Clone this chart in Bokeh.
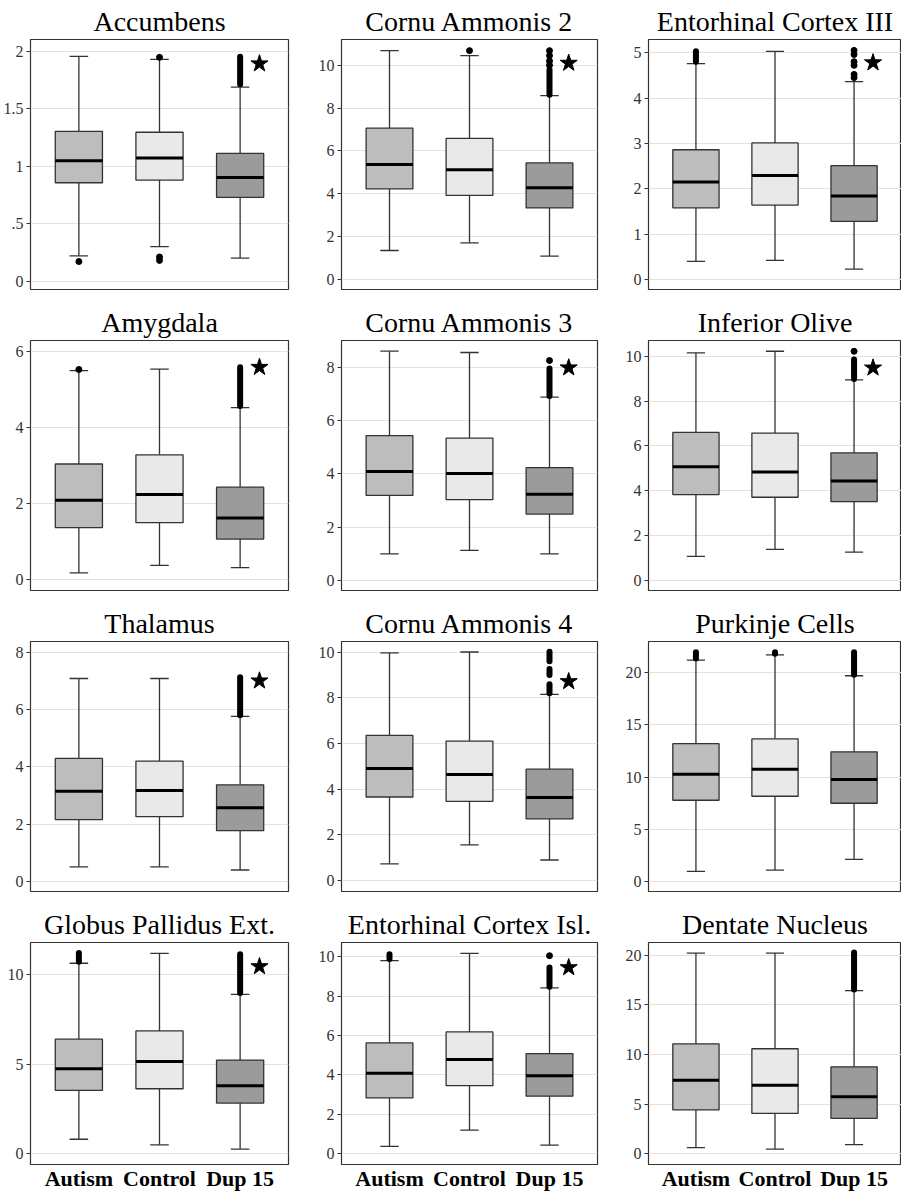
from bokeh.plotting import figure
from bokeh.layouts import gridplot
from bokeh.models import ColumnDataSource, FactorRange, Range1d, FixedTicker
from bokeh.transform import dodge
from bokeh.embed import file_html
from bokeh.resources import INLINE

groups = ["Autism", "Control", "Dup 15"]
regions = ["Accumbens", "Cornu Ammonis 2", "Entorhinal Cortex III",
           "Amygdala", "Cornu Ammonis 3", "Inferior Olive",
           "Thalamus", "Cornu Ammonis 4", "Purkinje Cells",
           "Globus Pallidus Ext.", "Entorhinal Cortex Isl.", "Dentate Nucleus"]

whisker_low = [[0.22, 0.30, 0.20], [1.35, 1.71, 1.09], [0.40, 0.42, 0.23],
               [0.18, 0.38, 0.32], [1.00, 1.13, 1.00], [1.07, 1.38, 1.26],
               [0.51, 0.51, 0.40], [0.73, 1.56, 0.90], [0.96, 1.09, 2.11],
               [0.81, 0.50, 0.26], [0.37, 1.20, 0.43], [0.60, 0.46, 0.90]]
q1 = [[0.855, 0.878, 0.727], [4.23, 3.92, 3.34], [1.58, 1.64, 1.28],
      [1.37, 1.50, 1.07], [3.19, 3.03, 2.49], [3.83, 3.71, 3.51],
      [2.16, 2.26, 1.77], [3.66, 3.47, 2.70], [7.78, 8.16, 7.49],
      [3.54, 3.63, 2.83], [2.83, 3.45, 2.92], [4.41, 4.05, 3.55]]
median = [[1.047, 1.070, 0.901], [5.37, 5.12, 4.28], [2.15, 2.29, 1.84],
          [2.09, 2.24, 1.62], [4.09, 4.01, 3.23], [5.07, 4.84, 4.43],
          [3.15, 3.17, 2.57], [4.91, 4.65, 3.64], [10.27, 10.75, 9.76],
          [4.75, 5.16, 3.80], [4.08, 4.78, 3.95], [7.40, 6.90, 5.74]]
q3 = [[1.302, 1.294, 1.110], [7.06, 6.58, 5.44], [2.86, 3.01, 2.51],
      [3.04, 3.28, 2.43], [5.43, 5.34, 4.23], [6.60, 6.57, 5.69],
      [4.29, 4.20, 3.37], [6.36, 6.11, 4.88], [13.20, 13.66, 12.42],
      [6.40, 6.86, 5.23], [5.62, 6.18, 5.08], [11.08, 10.58, 8.76]]
whisker_high = [[1.953, 1.927, 1.686], [10.68, 10.45, 8.58], [4.76, 5.03, 4.36],
                [5.49, 5.53, 4.52], [8.60, 8.55, 6.88], [10.15, 10.22, 8.94],
                [7.08, 7.08, 5.76], [9.97, 10.01, 8.15], [21.2, 21.7, 19.7],
                [10.64, 11.19, 8.90], [9.80, 10.17, 8.42], [20.23, 20.23, 16.45]]

# single outliers: (group, value)
outlier_points = [
    [("Autism", 0.17), ("Control", 1.945), ("Control", 0.21), ("Control", 0.18)],
    [("Control", 10.68), ("Dup 15", 10.0), ("Dup 15", 10.2), ("Dup 15", 10.45), ("Dup 15", 10.68)],
    [("Dup 15", 4.45), ("Dup 15", 4.52), ("Dup 15", 4.72), ("Dup 15", 4.80), ("Dup 15", 4.96), ("Dup 15", 5.05)],
    [("Autism", 5.52)],
    [("Dup 15", 8.25)],
    [("Dup 15", 10.22)],
    [],
    [],
    [],
    [],
    [("Dup 15", 10.05)],
    [],
]
# runs of overlapping outliers: (group, lowest, highest)
outlier_runs = [
    [("Dup 15", 1.71, 1.95)],
    [("Dup 15", 8.62, 9.80)],
    [("Autism", 4.80, 5.03)],
    [("Dup 15", 4.56, 5.58)],
    [("Dup 15", 6.92, 7.95)],
    [("Dup 15", 8.98, 9.85)],
    [("Dup 15", 5.80, 7.12)],
    [("Dup 15", 8.20, 8.60), ("Dup 15", 9.00, 9.27), ("Dup 15", 9.60, 10.02)],
    [("Autism", 21.35, 21.95), ("Control", 21.80, 21.95), ("Dup 15", 19.80, 21.95)],
    [("Autism", 10.72, 11.22), ("Dup 15", 8.98, 11.15)],
    [("Autism", 9.88, 10.12), ("Dup 15", 8.47, 9.45)],
    [("Dup 15", 16.55, 20.30)],
]
# significance star beside Dup 15 (None = no star)
star_y = [1.89, 10.1, 4.78, 5.58, 7.98, 9.48, 7.0, 8.72, None, 10.46, 9.45, None]

y_start = [-0.073, -0.47, -0.22, -0.28, -0.375, -0.45, -0.35, -0.48, -0.96, -0.6, -0.55, -1.1]
y_end = [2.10, 11.2, 5.29, 6.28, 9.0, 10.7, 8.37, 10.47, 22.98, 11.8, 10.72, 21.3]
y_ticks = [[0, 0.5, 1, 1.5, 2], [0, 2, 4, 6, 8, 10], [0, 1, 2, 3, 4, 5],
           [0, 2, 4, 6], [0, 2, 4, 6, 8], [0, 2, 4, 6, 8, 10],
           [0, 2, 4, 6, 8], [0, 2, 4, 6, 8, 10], [0, 5, 10, 15, 20],
           [0, 5, 10], [0, 2, 4, 6, 8, 10], [0, 5, 10, 15, 20]]
accumbens_tick_labels = ["0", ".5", "1", "1.5", "2"]

box_fill = ["#bdbdbd", "#e9e9e9", "#9b9b9b"]

SERIF = "'Liberation Serif', 'Times New Roman', serif"
frame_w = [258, 256, 253]
col_left = [29, 43, 47]
col_right = [10, 4, 0]
frame_h = [250, 250, 250, 222]

BOX_W = 0.585
CAP_HALF = 0.115
LINE = "#333333"

rows = []
for i, region in enumerate(regions):
    r, c = divmod(i, 3)
    last = (r == 3)
    p = figure(
        x_range=FactorRange(factors=groups, range_padding=0.1, range_padding_units="absolute"),
        y_range=Range1d(y_start[i], y_end[i]),
        frame_width=frame_w[c], frame_height=frame_h[r],
        x_axis_location=("below" if last else None),
        output_backend="svg", toolbar_location=None, title=region,
        min_border_left=col_left[c], min_border_right=col_right[c],
        min_border_top=36, min_border_bottom=(0 if last else 12),
    )
    p.title.text_font = SERIF
    p.title.text_font_size = "28px"
    p.title.text_font_style = "normal"
    p.title.text_color = "black"
    p.title.align = "center"
    p.title.standoff = 6

    p.outline_line_color = LINE
    p.outline_line_width = 1.2
    p.background_fill_color = "white"
    p.border_fill_color = "white"

    p.xgrid.visible = False
    p.ygrid.grid_line_color = "#e2e2e2"
    p.ygrid.grid_line_width = 1.2

    p.yaxis.ticker = FixedTicker(ticks=y_ticks[i])
    p.yaxis.minor_tick_line_color = None
    p.yaxis.axis_line_color = None
    p.yaxis.major_tick_line_color = LINE
    p.yaxis.major_tick_out = 4
    p.yaxis.major_tick_in = 0
    p.yaxis.major_label_standoff = 3
    p.yaxis.major_label_text_font = SERIF
    p.yaxis.major_label_text_font_size = "16px"
    p.yaxis.major_label_text_color = "#333333"
    if i == 0:
        p.yaxis.major_label_overrides = {t: s for t, s in zip(y_ticks[i], accumbens_tick_labels)}

    if last:
        p.xaxis.axis_line_color = None
        p.xaxis.major_tick_line_color = None
        p.xaxis.minor_tick_line_color = None
        p.xaxis.major_tick_out = 0
        p.xaxis.major_tick_in = 0
        p.xaxis.minor_tick_out = 0
        p.xaxis.major_label_standoff = 1
        p.xaxis.major_label_text_font = SERIF
        p.xaxis.major_label_text_font_size = "22px"
        p.xaxis.major_label_text_font_style = "bold"
        p.xaxis.major_label_text_color = "black"

    src = ColumnDataSource(dict(g=groups, lo=whisker_low[i], q1=q1[i], med=median[i],
                                q3=q3[i], hi=whisker_high[i], fill=box_fill))
    # whiskers
    p.segment(x0="g", y0="q3", x1="g", y1="hi", source=src, line_color=LINE, line_width=1.3)
    p.segment(x0="g", y0="lo", x1="g", y1="q1", source=src, line_color=LINE, line_width=1.3)
    for key in ("hi", "lo"):
        p.segment(x0=dodge("g", -CAP_HALF, range=p.x_range), y0=key,
                  x1=dodge("g", CAP_HALF, range=p.x_range), y1=key,
                  source=src, line_color=LINE, line_width=1.3)
    # outliers
    if outlier_runs[i]:
        rs = ColumnDataSource(dict(g=[t[0] for t in outlier_runs[i]],
                                   a=[t[1] for t in outlier_runs[i]],
                                   b=[t[2] for t in outlier_runs[i]]))
        p.segment(x0="g", y0="a", x1="g", y1="b", source=rs, line_color="black",
                  line_width=6, line_cap="round")
    if outlier_points[i]:
        ps = ColumnDataSource(dict(g=[t[0] for t in outlier_points[i]],
                                   y=[t[1] for t in outlier_points[i]]))
        p.scatter(x="g", y="y", source=ps, size=6, color="black")
    # boxes
    p.vbar(x="g", bottom="q1", top="q3", width=BOX_W, source=src, fill_color="fill",
           line_color=LINE, line_width=1.3)
    p.segment(x0=dodge("g", -BOX_W / 2, range=p.x_range), y0="med",
              x1=dodge("g", BOX_W / 2, range=p.x_range), y1="med",
              source=src, line_color="black", line_width=3)
    if star_y[i] is not None:
        ss = ColumnDataSource(dict(g=[groups[2]], y=[star_y[i]]))
        p.scatter(x=dodge("g", 0.24, range=p.x_range), y="y", source=ss, marker="star",
                  size=18, color="black")
    if c == 0:
        rows.append([])
    rows[-1].append(p)

grid = gridplot(rows, toolbar_location=None)
open("out.html", "w").write(file_html(grid, INLINE))
